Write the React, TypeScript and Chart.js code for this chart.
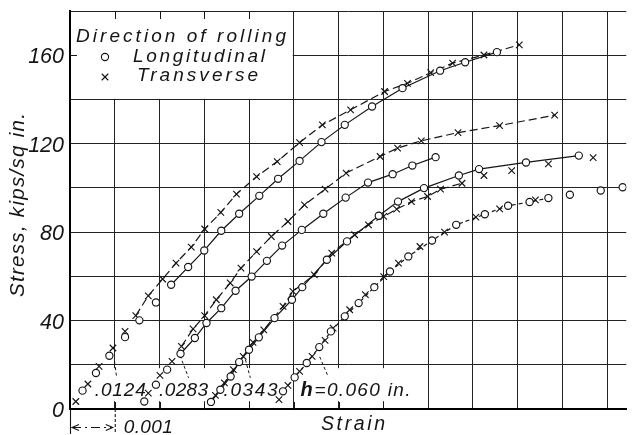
import React, { useEffect, useRef } from "react";
import { Chart, registerables } from "chart.js";

Chart.register(...registerables);

// Strain in units of 0.001 (one grid division), stress in kips/sq in.
// h = .0124 in.
const h0124L_strain = [0.28, 0.58, 0.88, 1.23, 1.55, 1.92, 2.26, 2.64, 3.0, 3.38, 3.78, 4.23, 4.65, 5.13, 5.62, 6.14, 6.75, 7.43, 8.27, 8.83, 9.54];
const h0124L_stress = [8.3, 16.3, 24.1, 32.5, 40.1, 48.2, 56.2, 64.2, 71.7, 80.6, 88.3, 96.4, 104.1, 112.2, 120.7, 128.5, 136.8, 145.1, 153.0, 156.8, 161.4];
const h0124T_strain = [0.13, 0.4, 0.65, 0.96, 1.23, 1.47, 1.75, 2.07, 2.37, 2.71, 3.01, 3.37, 3.72, 4.17, 4.63, 5.13, 5.64, 6.27, 7.03, 7.54, 8.06, 8.55, 9.25, 10.04];
const h0124T_stress = [3.4, 11.3, 19.3, 27.6, 35.1, 42.2, 51.2, 58.8, 66.0, 73.2, 81.4, 88.9, 97.2, 105.1, 111.9, 120.5, 128.5, 135.3, 143.6, 147.3, 152.1, 156.4, 160.1, 164.7];
// h = .0283 in.
const h0283L_strain = [1.66, 1.92, 2.17, 2.47, 2.79, 3.05, 3.38, 3.7, 4.06, 4.4, 4.74, 5.18, 5.66, 6.16, 6.66, 7.21, 7.65, 8.17];
const h0283L_stress = [3.4, 11.0, 17.8, 25.0, 32.1, 38.9, 45.6, 53.5, 59.9, 67.0, 73.9, 81.0, 88.3, 95.6, 102.4, 106.2, 110.1, 113.9];
const h0283T_strain = [1.75, 2.01, 2.28, 2.49, 2.75, 3.01, 3.27, 3.58, 3.82, 4.17, 4.5, 4.87, 5.24, 5.7, 6.17, 6.93, 7.32, 7.85, 8.67, 9.6, 10.83];
const h0283T_stress = [7.2, 15.2, 21.5, 28.3, 36.2, 42.2, 49.4, 57.0, 63.7, 71.2, 78.0, 84.8, 92.3, 99.4, 106.7, 114.2, 118.0, 121.3, 125.0, 128.2, 132.9];
// h = .0343 in.
const h0343L_strain = [3.15, 3.36, 3.59, 3.78, 4.0, 4.22, 4.57, 4.96, 5.19, 5.74, 6.19, 6.9, 7.33, 7.91, 8.69, 9.14, 10.19, 11.37];
const h0343L_stress = [3.2, 8.7, 14.7, 21.2, 26.8, 32.4, 41.1, 49.4, 55.1, 67.5, 75.8, 87.4, 93.8, 99.9, 105.6, 108.5, 111.5, 114.6];
const h0343T_strain = [3.25, 3.45, 3.65, 3.87, 4.09, 4.33, 4.76, 4.98, 5.46, 5.85, 6.36, 6.67, 7.01, 7.3, 7.63, 7.99, 8.28, 8.76, 9.25, 9.87, 10.69, 11.69];
const h0343T_stress = [6.2, 11.8, 17.8, 23.8, 30.1, 35.8, 46.4, 53.2, 60.7, 70.5, 78.8, 83.3, 87.1, 90.4, 93.8, 96.1, 99.4, 102.1, 105.6, 107.8, 110.9, 113.7];
// h = 0.060 in.
const h060L_strain = [4.76, 5.02, 5.29, 5.57, 5.83, 6.14, 6.45, 6.8, 7.15, 7.56, 8.09, 8.63, 9.27, 9.79, 10.27, 10.69, 11.17, 11.86, 12.35];
const h060L_stress = [8.0, 14.3, 20.8, 28.0, 35.1, 41.9, 47.9, 55.1, 62.2, 69.0, 76.2, 83.3, 88.1, 91.9, 93.6, 95.4, 96.9, 98.8, 100.3];
const h060T_strain = [4.67, 4.87, 5.13, 5.41, 5.7, 5.88, 6.25, 6.6, 7.01, 7.34, 7.82, 8.37, 9.07, 9.6, 10.4];
const h060T_stress = [4.2, 10.7, 17.0, 23.8, 31.0, 36.6, 44.9, 51.7, 59.9, 66.0, 73.5, 80.0, 86.8, 90.5, 94.6];

// Bottom thickness labels
const thicknessLabels = [".0124", ".0283", ".0343"];
const yLabelValues = [0, 40, 80, 120, 160];

const INK = "#151515";
const FONT = '"Liberation Sans", Arial, sans-serif';
const O_RADIUS = 3.6;
const X_RADIUS = 4.6;

type P = { x: number; y: number };
const pts = (xs: number[], ys: number[], from = 0, to = xs.length - 1): P[] => {
  const out: P[] = [];
  for (let i = from; i <= to; i++) out.push({ x: xs[i], y: ys[i] });
  return out;
};

const markerSet = (data: P[], kind: "o" | "x") => ({
  data,
  showLine: false,
  order: 0,
  pointStyle: kind === "o" ? "circle" : "crossRot",
  pointRadius: kind === "o" ? O_RADIUS : X_RADIUS,
  pointBackgroundColor: kind === "o" ? "#ffffff" : INK,
  pointBorderColor: INK,
  pointBorderWidth: 1.15,
  borderColor: INK,
  backgroundColor: "#ffffff",
});

const lineSet = (data: P[], dash: number[]) => ({
  data,
  showLine: true,
  order: 1,
  pointRadius: 0,
  borderColor: INK,
  borderWidth: 1.2,
  borderDash: dash,
  tension: 0,
  fill: false,
});

const SOLID: number[] = [];
const DASHED = [8, 4];
const SHORT = [4, 3];

function fitText(ctx: CanvasRenderingContext2D, text: string, x: number, y: number, width: number) {
  const c: any = ctx;
  if ("letterSpacing" in c) c.letterSpacing = "0px";
  const nat = ctx.measureText(text).width;
  if ("letterSpacing" in c && text.length > 1) {
    c.letterSpacing = (width - nat) / (text.length - 1) + "px";
    ctx.fillText(text, x, y);
    c.letterSpacing = "0px";
  } else {
    ctx.save();
    ctx.translate(x, y);
    ctx.scale(width / nat, 1);
    ctx.fillText(text, 0, 0);
    ctx.restore();
  }
}

function drawO(ctx: CanvasRenderingContext2D, x: number, y: number) {
  ctx.beginPath();
  ctx.arc(x, y, O_RADIUS, 0, Math.PI * 2);
  ctx.fillStyle = "#fff";
  ctx.fill();
  ctx.lineWidth = 1.15;
  ctx.strokeStyle = INK;
  ctx.stroke();
}
function drawX(ctx: CanvasRenderingContext2D, x: number, y: number) {
  const r = X_RADIUS * Math.SQRT1_2;
  ctx.beginPath();
  ctx.moveTo(x - r, y - r);
  ctx.lineTo(x + r, y + r);
  ctx.moveTo(x + r, y - r);
  ctx.lineTo(x - r, y + r);
  ctx.lineWidth = 1.15;
  ctx.strokeStyle = INK;
  ctx.stroke();
}

// annotation anchors in data units (strain x 0.001, stress)
const labelStarts = [0.553, 1.99, 3.43];
const labelWidths = [51, 49, 54];
const leaders = [
  [0.996, 21.4, 1.04, 14.6],
  [2.46, 24.1, 2.65, 14.1],
  [3.92, 22.3, 4.03, 14.1],
  [5.58, 23.6, 5.77, 14.6],
];

const decor = {
  id: "decor",
  beforeDatasetsDraw(chart: any) {
    const { ctx, scales } = chart;
    const x = scales.x, y = scales.y;
    const px = (v: number) => x.getPixelForValue(v);
    const py = (v: number) => y.getPixelForValue(v);
    ctx.save();
    // legend box (covers grid)
    ctx.fillStyle = "#fff";
    const bx0 = px(0), bx1 = px(5), by0 = py(180), by1 = py(140);
    ctx.fillRect(bx0 + 1.5, by0 + 1, bx1 - bx0 - 2.5, by1 - by0 - 1.6);
    ctx.strokeStyle = INK;
    ctx.lineWidth = 1;
    ctx.beginPath();
    for (let u = 1; u <= 4; u++) {
      const xx = Math.round(px(u)) + 0.5;
      ctx.moveTo(xx, by0);
      ctx.lineTo(xx, by0 + 8);
    }
    const yy160 = Math.round(py(160)) + 0.5;
    ctx.moveTo(bx0, yy160);
    ctx.lineTo(bx0 + 7, yy160);
    ctx.stroke();

    // white areas behind bottom labels
    const base = py(5.8);
    ctx.fillStyle = "#fff";
    thicknessLabels.forEach((t, i) => {
      const lx = px(labelStarts[i]);
      ctx.fillRect(lx - 2, base - 28, labelWidths[i] + 4, 33);
    });
    const hx = px(5.15);
    ctx.fillRect(hx - 2, base - 28, 116, 33);

    // short ticks along the axis
    ctx.strokeStyle = INK;
    ctx.lineWidth = 1;
    ctx.beginPath();
    for (let u = 1; u <= 7; u++) {
      const xx = Math.round(px(u)) + 0.5;
      ctx.moveTo(xx, py(0));
      ctx.lineTo(xx, py(0) - 7);
    }
    ctx.stroke();

    // dashed leaders
    ctx.setLineDash([3, 2.5]);
    ctx.beginPath();
    leaders.forEach(([a, b, c, d]) => {
      ctx.moveTo(px(a), py(b));
      ctx.lineTo(px(c), py(d));
    });
    ctx.stroke();
    ctx.setLineDash([]);
    ctx.restore();
  },
  afterDraw(chart: any) {
    const { ctx, scales, chartArea } = chart;
    const x = scales.x, y = scales.y;
    const px = (v: number) => x.getPixelForValue(v);
    const py = (v: number) => y.getPixelForValue(v);
    ctx.save();
    ctx.fillStyle = INK;
    ctx.textBaseline = "alphabetic";
    ctx.textAlign = "left";

    // y tick labels
    ctx.font = `italic 21.5px ${FONT}`;
    ctx.textBaseline = "middle";
    ctx.textAlign = "right";
    y.ticks
      .filter((t: any) => yLabelValues.includes(t.value))
      .forEach((t: any) => ctx.fillText(String(t.value), chartArea.left - 6, py(t.value) + 2));
    ctx.textAlign = "left";
    ctx.textBaseline = "alphabetic";

    // y title
    ctx.save();
    ctx.font = `italic 20.5px ${FONT}`;
    ctx.translate(23.5, 205);
    ctx.rotate(-Math.PI / 2);
    fitText(ctx, "Stress, kips/sq in.", -92, 0, 184);
    ctx.restore();

    // legend
    const L = chartArea.left, T = chartArea.top;
    ctx.font = `italic 19px ${FONT}`;
    fitText(ctx, "Direction of rolling", L + 6, T + 31, 210);
    fitText(ctx, "Longitudinal", L + 63, T + 51, 132);
    fitText(ctx, "Transverse", L + 67, T + 70, 121);
    drawO(ctx, L + 35, T + 46);
    drawX(ctx, L + 35, T + 66);

    // bottom thickness labels
    ctx.fillStyle = INK;
    ctx.font = `italic 19px ${FONT}`;
    const base = py(5.8);
    thicknessLabels.forEach((t, i) => fitText(ctx, t, px(labelStarts[i]), base, labelWidths[i]));
    const hx = px(5.15);
    ctx.font = `bold italic 20px ${FONT}`;
    ctx.fillText("h", hx, base);
    ctx.font = `italic 19px ${FONT}`;
    fitText(ctx, "=0.060 in.", hx + 14, base, 96);

    // x title
    ctx.font = `italic 19.5px ${FONT}`;
    fitText(ctx, "Strain", 321, 430, 64);

    // 0.001 scale marker
    const x0 = px(0), x1 = px(1), yb = py(0);
    ctx.strokeStyle = INK;
    ctx.lineWidth = 1.1;
    ctx.beginPath();
    ctx.moveTo(x0 + 0.5, yb);
    ctx.lineTo(x0 + 0.5, yb + 25);
    ctx.stroke();
    ctx.setLineDash([3, 2]);
    ctx.beginPath();
    ctx.moveTo(x1 + 0.5, yb);
    ctx.lineTo(x1 + 0.5, yb + 25);
    ctx.stroke();
    ctx.setLineDash([9, 4, 2, 4]);
    const ay = yb + 18.5;
    ctx.beginPath();
    ctx.moveTo(x0 + 2, ay);
    ctx.lineTo(x1 - 2, ay);
    ctx.stroke();
    ctx.setLineDash([]);
    ctx.beginPath();
    ctx.moveTo(x0 + 9, ay - 3);
    ctx.lineTo(x0 + 2, ay);
    ctx.lineTo(x0 + 9, ay + 3);
    ctx.moveTo(x1 - 9, ay - 3);
    ctx.lineTo(x1 - 2, ay);
    ctx.lineTo(x1 - 9, ay + 3);
    ctx.stroke();
    ctx.font = `italic 19px ${FONT}`;
    fitText(ctx, "0.001", x1 + 9, 432.5, 49);
    ctx.restore();
  },
};

export default function App() {
  const ref = useRef<HTMLCanvasElement>(null);
  useEffect(() => {
    const canvas = ref.current;
    if (!canvas) return;
    const datasets: any[] = [
      // markers (drawn on top)
      markerSet(pts(h0124L_strain, h0124L_stress), "o"),
      markerSet(pts(h0124T_strain, h0124T_stress), "x"),
      markerSet(pts(h0283L_strain, h0283L_stress), "o"),
      markerSet(pts(h0283T_strain, h0283T_stress), "x"),
      markerSet(pts(h0343L_strain, h0343L_stress), "o"),
      markerSet(pts(h0343T_strain, h0343T_stress), "x"),
      markerSet(pts(h060L_strain, h060L_stress), "o"),
      markerSet(pts(h060T_strain, h060T_stress), "x"),
      // connecting curves
      lineSet(pts(h0124L_strain, h0124L_stress, 6), SOLID),
      lineSet(pts(h0124T_strain, h0124T_stress, 5), DASHED),
      lineSet(pts(h0283L_strain, h0283L_stress, 3), SOLID),
      lineSet(pts(h0283T_strain, h0283T_stress, 3), DASHED),
      lineSet(pts(h0343L_strain, h0343L_stress), SOLID),
      lineSet(pts(h0343T_strain, h0343T_stress, 0, 17), DASHED),
      lineSet(pts(h060L_strain, h060L_stress, 0, 15), SHORT),
    ];
    const chart = new Chart(canvas, {
      type: "scatter",
      data: { datasets },
      options: {
        responsive: false,
        animation: false,
        events: [],
        layout: { padding: { left: 70, right: 0, top: 11, bottom: 26 } },
        plugins: { legend: { display: false }, tooltip: { enabled: false } },
        scales: {
          x: {
            type: "linear",
            min: 0,
            max: 12.43,
            ticks: { display: false, stepSize: 1, includeBounds: false },
            grid: { color: "#222", lineWidth: 1, drawTicks: false },
            border: { color: "#000", width: 2 },
          },
          y: {
            type: "linear",
            min: 0,
            max: 180,
            ticks: { display: false, stepSize: 20 },
            grid: { color: "#222", lineWidth: 1, drawTicks: false },
            border: { color: "#000", width: 2 },
          },
        },
      } as any,
      plugins: [decor],
    });
    return () => chart.destroy();
  }, []);
  return (
    <div style={{ position: "absolute", left: 0, top: 0, width: 632, height: 435, background: "#fff" }}>
      <canvas ref={ref} width={632} height={435} style={{ display: "block" }} />
    </div>
  );
}
